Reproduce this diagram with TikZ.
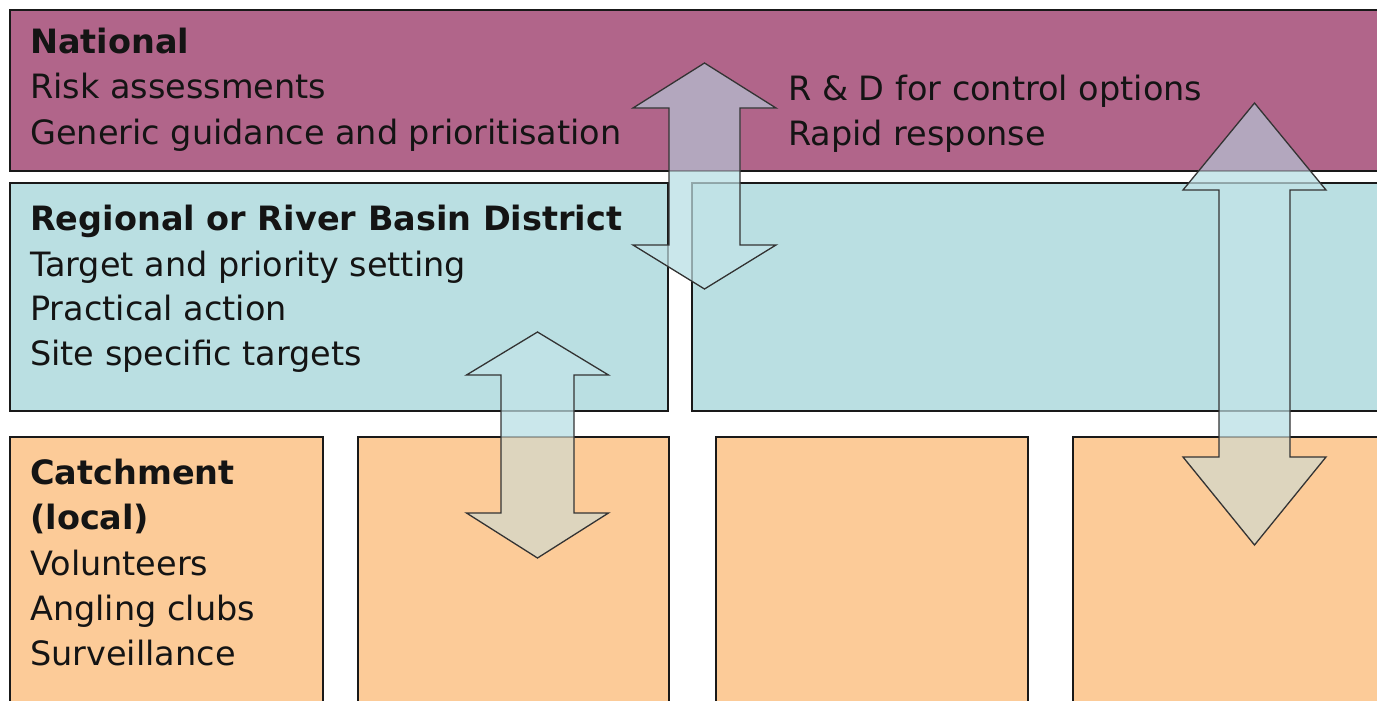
\documentclass[tikz,border=0pt]{standalone}
\usepackage{fontspec}
\setmainfont{DejaVu Sans}
\definecolor{natfill}{RGB}{177,101,138}
\definecolor{regfill}{RGB}{186,223,226}
\definecolor{catfill}{RGB}{252,203,152}
% colours of the arrows over each kind of ground
\definecolor{arrnat}{RGB}{179,167,190}
\definecolor{arrgap}{RGB}{202,231,235}
\definecolor{arrreg}{RGB}{192,226,230}
\definecolor{arrcat}{RGB}{221,213,190}
\newcommand\natbox{(10,10) rectangle (1400,171)}
\newcommand\regboxa{(10,183) rectangle (668,411)}
\newcommand\regboxb{(692,183) rectangle (1400,411)}
\newcommand\catboxa{(10,437) rectangle (323,720)}
\newcommand\catboxb{(358,437) rectangle (669,720)}
\newcommand\catboxc{(716,437) rectangle (1028,720)}
\newcommand\catboxd{(1073,437) rectangle (1400,720)}
% #1 cx, #2 shaft half width, #3 head half width, #4 top tip y, #5 top head base y, #6 bottom head base y, #7 bottom tip y
\newcommand\dblarr[7]{%
  \begin{scope}
    \clip (#1,#4) -- (#1+#3,#5) -- (#1+#2,#5) -- (#1+#2,#6) -- (#1+#3,#6)
      -- (#1,#7) -- (#1-#3,#6) -- (#1-#2,#6) -- (#1-#2,#5) -- (#1-#3,#5) -- cycle;
    \fill[arrgap] (-10,-10) rectangle (1400,720);
    \fill[arrnat] \natbox;
    \fill[arrreg] \regboxa;
    \fill[arrreg] \regboxb;
    \fill[arrcat] \catboxa;
    \fill[arrcat] \catboxb;
    \fill[arrcat] \catboxc;
    \fill[arrcat] \catboxd;
    \path[box, draw opacity=0.3] \natbox;
    \path[box, draw opacity=0.3] \regboxa;
    \path[box, draw opacity=0.3] \regboxb;
    \path[box, draw opacity=0.3] \catboxa;
    \path[box, draw opacity=0.3] \catboxb;
    \path[box, draw opacity=0.3] \catboxc;
    \path[box, draw opacity=0.3] \catboxd;
  \end{scope}
  \path[arr] (#1,#4) -- (#1+#3,#5) -- (#1+#2,#5) -- (#1+#2,#6) -- (#1+#3,#6)
    -- (#1,#7) -- (#1-#3,#6) -- (#1-#2,#6) -- (#1-#2,#5) -- (#1-#3,#5) -- cycle;}
\begin{document}
\begin{tikzpicture}[x=1pt,y=-1pt,
  box/.style={draw=black!90, line width=2.5pt},
  lbl/.style={anchor=base west, inner sep=0pt, text=black!92, font=\fontsize{33.5}{45}\selectfont},
  ttl/.style={lbl, font=\fontsize{33.5}{45}\selectfont\bfseries},
  arr/.style={draw=black!80, line width=1.3pt, line join=miter}]
\useasboundingbox (0,0) rectangle (1377,701);
\clip (0,0) rectangle (1377,701);
\fill[white] (0,0) rectangle (1377,701);
% boxes
\path[box, fill=natfill] \natbox;
\path[box, fill=regfill] \regboxa;
\path[box, fill=regfill] \regboxb;
\path[box, fill=catfill] \catboxa;
\path[box, fill=catfill] \catboxb;
\path[box, fill=catfill] \catboxc;
\path[box, fill=catfill] \catboxd;
% national text
\node[ttl] (n1) at (30,54) {National};
\node[lbl] (n2) at (30,99) {Risk assessments};
\node[lbl] (n3) at (30,144) {Generic guidance and prioritisation};
\node[lbl] (n4) at (788,100) {R \& D for control options};
\node[lbl] (n5) at (788,145) {Rapid response};
% regional text
\node[ttl] (r1) at (30,230) {Regional or River Basin District};
\node[lbl] (r2) at (30,276) {Target and priority setting};
\node[lbl] (r3) at (30,320) {Practical action};
\node[lbl] (r4) at (30,365) {Site specific targets};
% catchment text
\node[ttl] (c1) at (30,484) {Catchment};
\node[ttl] (c2) at (30,529) {(local)};
\node[lbl] (c3) at (30,575) {Volunteers};
\node[lbl] (c4) at (30,620) {Angling clubs};
\node[lbl] (c5) at (30,665) {Surveillance};
% arrows
\dblarr{704.5}{35.5}{71.5}{63}{108}{245}{289}
\dblarr{1254.5}{35.5}{71.5}{103}{190}{457}{545}
\dblarr{537.5}{36.5}{71}{332}{375}{513}{558}
\end{tikzpicture}
\end{document}
